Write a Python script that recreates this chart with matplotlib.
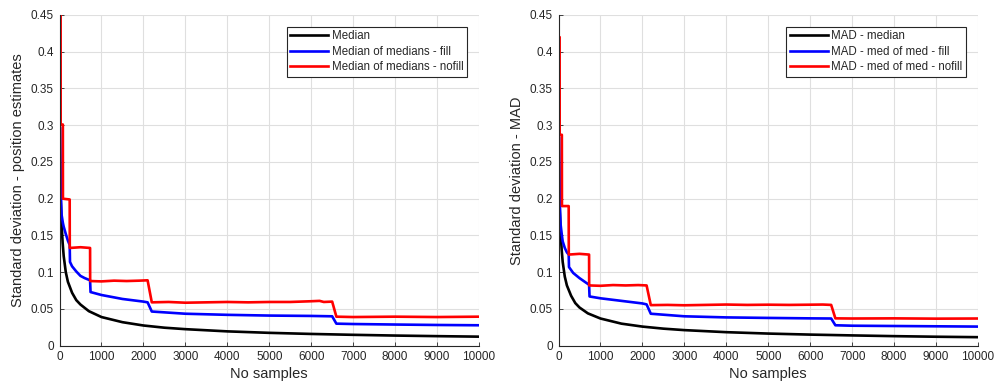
import matplotlib
matplotlib.use("Agg")
import matplotlib.pyplot as plt

# ---------------- data ----------------
# Left panel: position estimates
med_x = [1, 5, 10, 20, 30, 50, 75, 100, 150, 200, 300, 400, 500, 700, 1000, 1500,
         2000, 2500, 3000, 4000, 5000, 6000, 7000, 8000, 9000, 10000]
med_y = [0.37, 0.31, 0.27, 0.225, 0.195, 0.165, 0.14, 0.122, 0.1, 0.087, 0.072, 0.062,
         0.056, 0.047, 0.039, 0.032, 0.0275, 0.0245, 0.0225, 0.0195, 0.0175, 0.016,
         0.0148, 0.0138, 0.013, 0.0123]

mmf_x = [1, 15, 27, 50, 81, 100, 150, 200, 243, 250, 300, 400, 500, 600, 729, 740,
         1000, 1500, 2000, 2100, 2200, 3000, 4000, 5000, 6000, 6500, 6600, 7000, 8000,
         9000, 10000]
mmf_y = [0.297, 0.297, 0.215, 0.178, 0.167, 0.162, 0.152, 0.143, 0.137, 0.114, 0.108,
         0.101, 0.095, 0.092, 0.089, 0.073, 0.069, 0.0636, 0.060, 0.059, 0.0465, 0.0435,
         0.042, 0.041, 0.0405, 0.040, 0.030, 0.0295, 0.0288, 0.0282, 0.0278]

mmn_x = [1, 27, 28, 80, 82, 243, 245, 500, 729, 731, 1000, 1300, 1600, 1900, 2100,
         2200, 2600, 3000, 3500, 4000, 4500, 5000, 5500, 6000, 6200, 6300, 6500, 6600,
         7000, 8000, 9000, 10000]
mmn_y = [0.46, 0.46, 0.301, 0.301, 0.2, 0.199, 0.133, 0.134, 0.133, 0.088, 0.0875,
         0.0885, 0.088, 0.0885, 0.089, 0.059, 0.0595, 0.0585, 0.059, 0.0595, 0.059,
         0.0595, 0.0595, 0.0605, 0.061, 0.0595, 0.060, 0.0395, 0.039, 0.0395, 0.039,
         0.0395]

# Right panel: MAD
mad_x = med_x
mad_y = [0.335, 0.29, 0.255, 0.212, 0.183, 0.155, 0.131, 0.114, 0.094, 0.082, 0.068,
         0.058, 0.052, 0.044, 0.037, 0.030, 0.026, 0.0232, 0.0212, 0.0184, 0.0165,
         0.0151, 0.014, 0.013, 0.0122, 0.0116]

madf_x = [1, 2, 15, 27, 50, 81, 100, 150, 200, 243, 250, 350, 500, 650, 729, 740, 1000,
          1500, 2000, 2100, 2200, 3000, 4000, 5000, 6000, 6500, 6600, 7000, 8000, 9000,
          10000]
madf_y = [0.46, 0.284, 0.284, 0.2, 0.165, 0.15, 0.142, 0.133, 0.127, 0.124, 0.107,
          0.099, 0.092, 0.086, 0.083, 0.067, 0.0645, 0.061, 0.0575, 0.0562, 0.0435,
          0.040, 0.0385, 0.0378, 0.0372, 0.037, 0.0278, 0.0272, 0.0268, 0.0264, 0.026]

madn_x = [1, 27, 28, 80, 82, 243, 245, 500, 729, 731, 1000, 1300, 1600, 1900, 2100,
          2200, 2600, 3000, 3500, 4000, 4500, 5000, 5500, 6000, 6300, 6500, 6600, 7000,
          8000, 9000, 10000]
madn_y = [0.42, 0.42, 0.287, 0.287, 0.19, 0.19, 0.124, 0.125, 0.124, 0.082, 0.0815,
          0.0825, 0.082, 0.0825, 0.082, 0.0552, 0.0555, 0.055, 0.0555, 0.056, 0.0555,
          0.0558, 0.0555, 0.0558, 0.056, 0.0555, 0.0372, 0.037, 0.0372, 0.0368, 0.037]

left_labels = ["Median", "Median of medians - fill", "Median of medians - nofill"]
right_labels = ["MAD - median", "MAD - med of med - fill", "MAD - med of med - nofill"]
xticks = list(range(0, 10001, 1000))
yticks = [0, 0.05, 0.1, 0.15, 0.2, 0.25, 0.3, 0.35, 0.4, 0.45]
ytick_labels = ["0", "0.05", "0.1", "0.15", "0.2", "0.25", "0.3", "0.35", "0.4", "0.45"]

# ---------------- style ----------------
plt.rcParams['font.family'] = ['Liberation Sans', 'DejaVu Sans']
TXT = '#262626'
FS = 8.5

fig = plt.figure(figsize=(9.94, 3.87), dpi=100)
ax1 = fig.add_axes([59.5 / 994, 1 - 345.7 / 387, 419.5 / 994, 330.7 / 387])
ax2 = fig.add_axes([558.5 / 994, 1 - 345.7 / 387, 419.5 / 994, 330.7 / 387])


def style(ax, ylabel, labels, series):
    for (x, y), c, lab in zip(series, ['black', 'blue', 'red'], labels):
        ax.plot(x, y, color=c, lw=1.9, label=lab)
    ax.set_xlim(0, 10000)
    ax.set_ylim(0, 0.45)
    ax.set_xticks(xticks)
    ax.set_xticklabels([str(t) for t in xticks])
    ax.set_yticks(yticks)
    ax.set_yticklabels(ytick_labels)
    ax.grid(True, color='#dfdfdf', lw=0.8)
    ax.set_axisbelow(True)
    for s in ['top', 'right']:
        ax.spines[s].set_visible(False)
    for s in ['left', 'bottom']:
        ax.spines[s].set_color(TXT)
        ax.spines[s].set_linewidth(0.8)
    ax.tick_params(direction='in', length=3, width=0.6, colors=TXT,
                   labelsize=FS, labelcolor=TXT, pad=4)
    ax.set_xlabel("No samples", fontsize=10.5, color=TXT, labelpad=3)
    ax.set_ylabel(ylabel, fontsize=10.5, color=TXT, labelpad=4)
    leg = ax.legend(loc='upper right', bbox_to_anchor=(0.9707, 0.9646),
                    borderaxespad=0, fontsize=8.3, handlelength=3.3,
                    handletextpad=0.3, borderpad=0.3, labelspacing=0.3,
                    fancybox=False, framealpha=1, edgecolor=TXT)
    leg.get_frame().set_linewidth(0.8)
    for t in leg.get_texts():
        t.set_color(TXT)


style(ax1, "Standard deviation - position estimates", left_labels,
      [(med_x, med_y), (mmf_x, mmf_y), (mmn_x, mmn_y)])
style(ax2, "Standard deviation - MAD", right_labels,
      [(mad_x, mad_y), (madf_x, madf_y), (madn_x, madn_y)])

fig.savefig("out.png", dpi=100)
